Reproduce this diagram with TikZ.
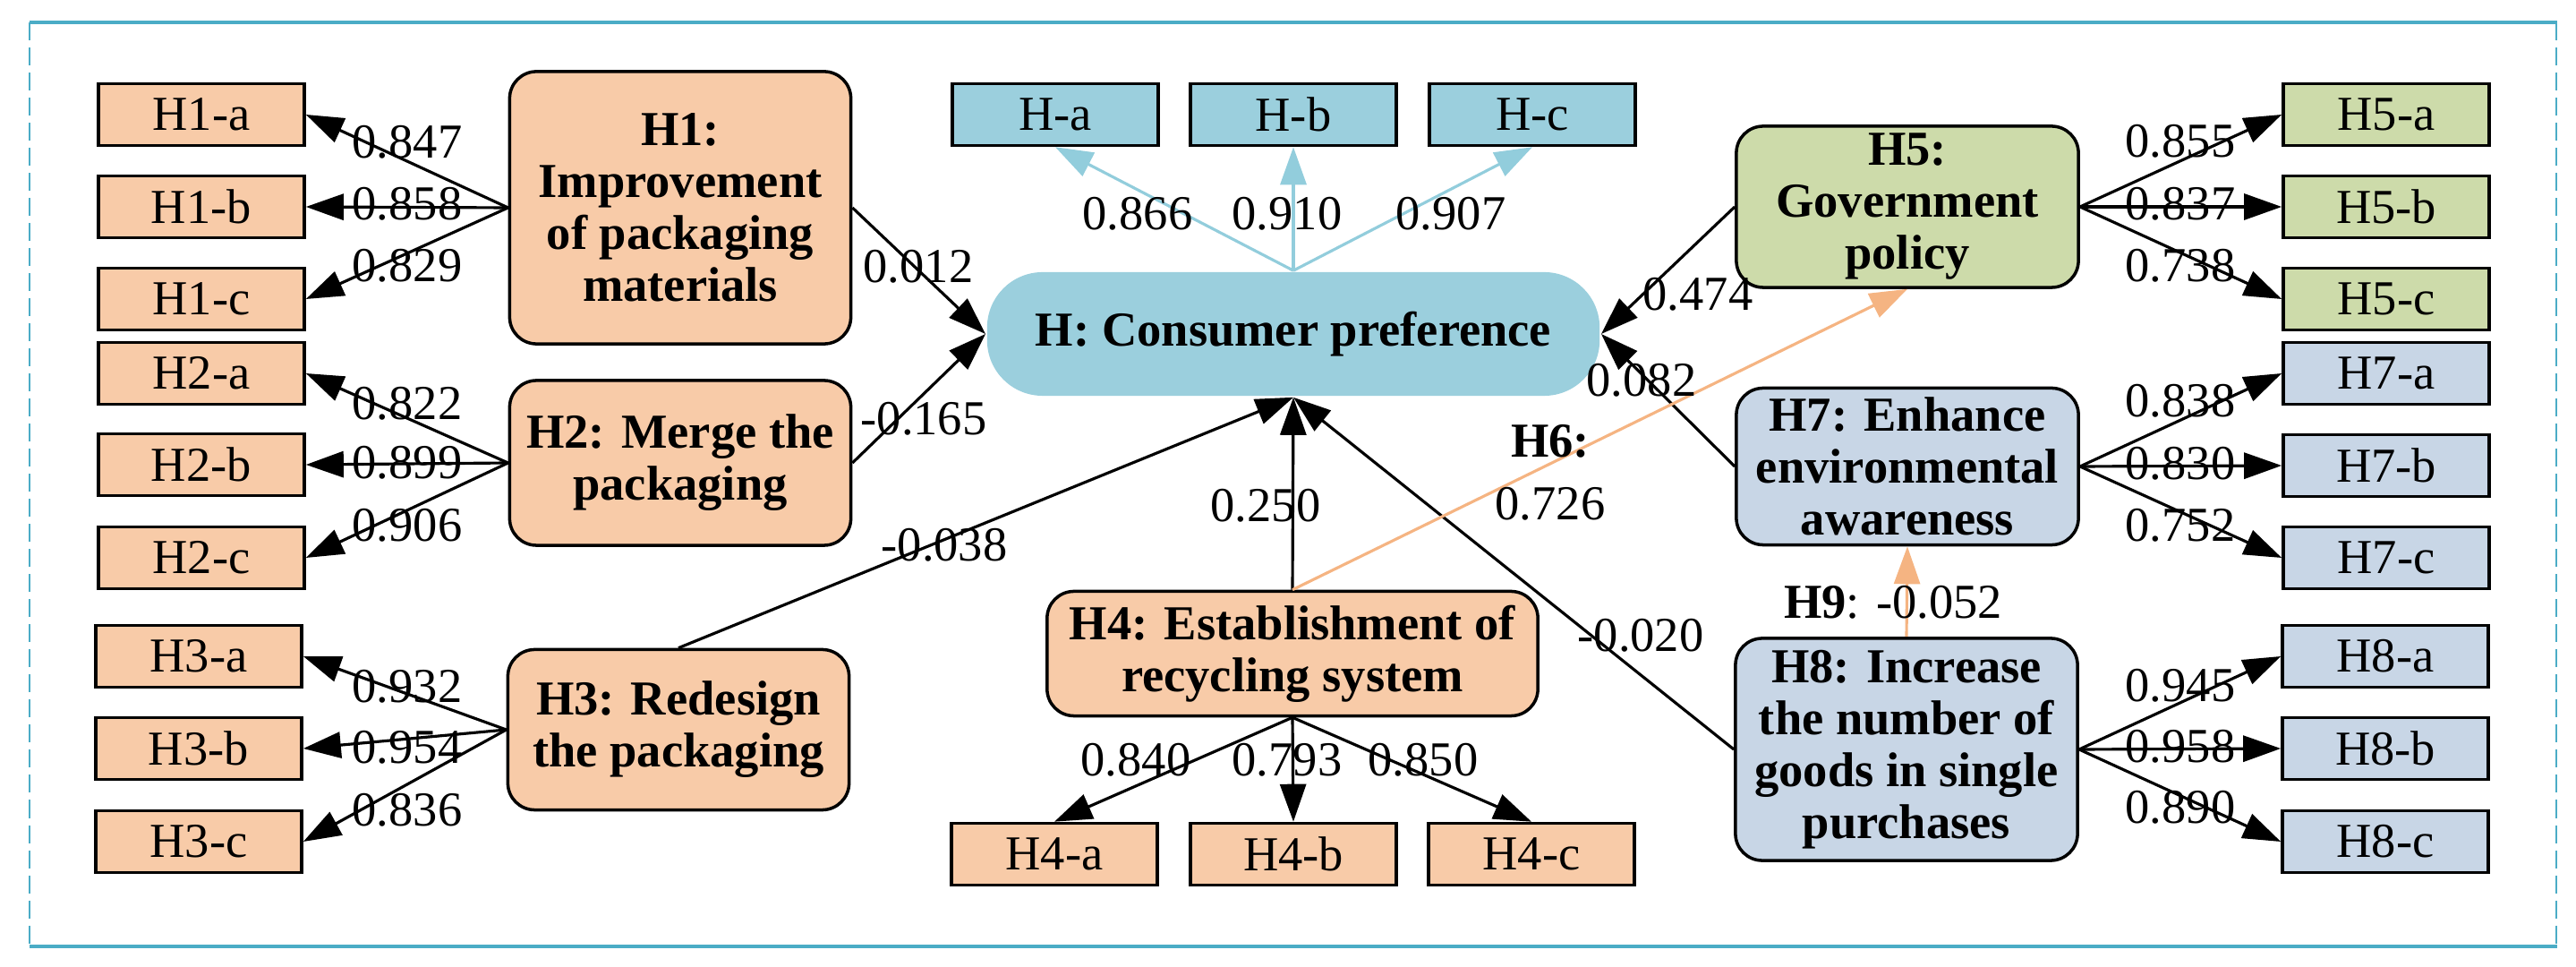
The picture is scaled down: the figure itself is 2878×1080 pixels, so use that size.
\documentclass[tikz,border=0pt]{standalone}
\usepackage{fontspec}
\setmainfont{Liberation Serif}
\usetikzlibrary{arrows.meta}
\definecolor{frameblue}{HTML}{4BACC6}
\definecolor{orfill}{HTML}{F8CBA8}
\definecolor{grfill}{HTML}{CDDBAA}
\definecolor{blfill}{HTML}{C8D6E6}
\definecolor{hfill}{HTML}{9BCFDD}
\definecolor{harrow}{HTML}{92CDDC}
\definecolor{orarrow}{HTML}{F5B482}
\begin{document}
\begin{tikzpicture}[x=0.01cm,y=-0.01cm,
  ind/.style={draw=black, line width=1pt, minimum width=2.3cm, minimum height=0.69cm, inner sep=0pt, font=\fontsize{15.5}{17}\selectfont},
  lat/.style={draw=black, line width=1pt, rounded corners=0.3cm, align=center, inner sep=0pt, font=\fontsize{15.5}{16.5}\selectfont\bfseries},
  lbl/.style={inner sep=0pt, font=\fontsize{15.5}{17}\selectfont},
  arr/.style={line width=0.9pt, -{Triangle[length=4.2mm,width=2.9mm]}},
  barr/.style={draw=harrow, line width=0.9pt, -{Triangle[length=4.2mm,width=2.9mm]}},
  oarr/.style={draw=orarrow, line width=0.9pt, -{Triangle[length=4.2mm,width=2.9mm]}},
  edge/.style={line width=0.9pt}
]
\useasboundingbox (0,0) rectangle (2878,1080);
% frame
\draw[frameblue, line width=0.035cm] (33,25) -- (2857,25);
\draw[frameblue, line width=0.035cm] (33,1057) -- (2857,1057);
\draw[frameblue, line width=0.5pt, dash pattern=on 0.2cm off 0.08cm] (33,25) -- (33,1057);
\draw[frameblue, line width=0.5pt, dash pattern=on 0.2cm off 0.08cm] (2856,25) -- (2856,1057);

% latent nodes
\node[lat, fill=orfill, minimum width=3.81cm, minimum height=3.04cm] (H1) at (760,232) {H1:\\Improvement\\of packaging\\materials};
\node[lat, fill=orfill, minimum width=3.81cm, minimum height=1.84cm] (H2) at (760,517) {H2: Merge the\\packaging};
\node[lat, fill=orfill, minimum width=3.81cm, minimum height=1.79cm] (H3) at (758,815) {H3: Redesign\\the packaging};
\node[lat, fill=orfill, minimum width=5.48cm, minimum height=1.39cm] (H4) at (1444,730) {H4: Establishment of\\recycling system};
\node[lat, fill=grfill, minimum width=3.82cm, minimum height=1.80cm] (H5) at (2131,231) {H5:\\Government\\policy};
\node[lat, fill=blfill, minimum width=3.82cm, minimum height=1.75cm] (H7) at (2131,521) {H7: Enhance\\environmental\\awareness};
\node[lat, fill=blfill, minimum width=3.82cm, minimum height=2.48cm] (H8) at (2130,837) {H8: Increase\\the number of\\goods in single\\purchases};
\node[lat, draw=none, fill=hfill, rounded corners=0.62cm, minimum width=6.84cm, minimum height=1.38cm] (H) at (1445,373) {H: Consumer preference};

% indicator nodes
\node[ind, fill=orfill] (H1a) at (225,128) {H1-a};
\node[ind, fill=orfill] (H1b) at (225,231) {H1-b};
\node[ind, fill=orfill] (H1c) at (225,334) {H1-c};
\node[ind, fill=orfill] (H2a) at (225,417) {H2-a};
\node[ind, fill=orfill] (H2b) at (225,519) {H2-b};
\node[ind, fill=orfill] (H2c) at (225,623) {H2-c};
\node[ind, fill=orfill] (H3a) at (222,733) {H3-a};
\node[ind, fill=orfill] (H3b) at (222,836) {H3-b};
\node[ind, fill=orfill] (H3c) at (222,940) {H3-c};
\node[ind, fill=hfill] (Ha) at (1179,128) {H-a};
\node[ind, fill=hfill] (Hb) at (1445,128) {H-b};
\node[ind, fill=hfill] (Hc) at (1712,128) {H-c};
\node[ind, fill=orfill] (H4a) at (1178,954) {H4-a};
\node[ind, fill=orfill] (H4b) at (1445,954) {H4-b};
\node[ind, fill=orfill] (H4c) at (1711,954) {H4-c};
\node[ind, fill=grfill] (H5a) at (2666,128) {H5-a};
\node[ind, fill=grfill] (H5b) at (2666,231) {H5-b};
\node[ind, fill=grfill] (H5c) at (2666,334) {H5-c};
\node[ind, fill=blfill] (H7a) at (2666,417) {H7-a};
\node[ind, fill=blfill] (H7b) at (2666,520) {H7-b};
\node[ind, fill=blfill] (H7c) at (2666,623) {H7-c};
\node[ind, fill=blfill] (H8a) at (2665,733) {H8-a};
\node[ind, fill=blfill] (H8b) at (2665,836) {H8-b};
\node[ind, fill=blfill] (H8c) at (2665,940) {H8-c};

% loadings
\draw[arr] (H1.west) -- (H1a.east);
\draw[arr] (H1.west) -- (H1b.east);
\draw[arr] (H1.west) -- (H1c.east);
\draw[arr] (H2.west) -- (H2a.east);
\draw[arr] (H2.west) -- (H2b.east);
\draw[arr] (H2.west) -- (H2c.east);
\draw[arr] (H3.west) -- (H3a.east);
\draw[arr] (H3.west) -- (H3b.east);
\draw[arr] (H3.west) -- (H3c.east);
\draw[barr] (H.north) -- (Ha.south);
\draw[barr] (H.north) -- (Hb.south);
\draw[barr] (H.north) -- (Hc.south);
\draw[arr] (H4.south) -- (H4a.north);
\draw[arr] (H4.south) -- (H4b.north);
\draw[arr] (H4.south) -- (H4c.north);
\draw[arr] (H5.east) -- (H5a.west);
\draw[arr] (H5.east) -- (H5b.west);
\draw[arr] (H5.east) -- (H5c.west);
\draw[arr] (H7.east) -- (H7a.west);
\draw[arr] (H7.east) -- (H7b.west);
\draw[arr] (H7.east) -- (H7c.west);
\draw[arr] (H8.east) -- (H8a.west);
\draw[arr] (H8.east) -- (H8b.west);
\draw[arr] (H8.east) -- (H8c.west);

% structural paths
\draw[arr] (H1.east) -- (H.west);
\draw[arr] (H2.east) -- (H.west);
\draw[arr] (H3.north) -- (H.south);
\draw[arr] (H4.north) -- (H.south);
\draw[arr] (H8.west) -- (H.south);
\draw[arr] (H5.west) -- (H.east);
\draw[arr] (H7.west) -- (H.east);
\draw[oarr] (H4.north) -- (H5.south);
\draw[oarr] (H8.north) -- (H7.south);

% labels
\node[lbl] (l1a) at (455,159) {0.847};
\node[lbl] (l1b) at (455,228) {0.858};
\node[lbl] (l1c) at (455,297) {0.829};
\node[lbl] (l2a) at (455,451) {0.822};
\node[lbl] (l2b) at (455,517) {0.899};
\node[lbl] (l2c) at (455,587) {0.906};
\node[lbl] (l3a) at (455,767) {0.932};
\node[lbl] (l3b) at (455,835) {0.954};
\node[lbl] (l3c) at (455,905) {0.836};
\node[lbl] (lha) at (1271,239) {0.866};
\node[lbl] (lhb) at (1438,239) {0.910};
\node[lbl] (lhc) at (1621,239) {0.907};
\node[lbl] (l4a) at (1269,849) {0.840};
\node[lbl] (l4b) at (1438,849) {0.793};
\node[lbl] (l4c) at (1590,849) {0.850};
\node[lbl] (l5a) at (2436,158) {0.855};
\node[lbl] (l5b) at (2436,228) {0.837};
\node[lbl] (l5c) at (2436,297) {0.738};
\node[lbl] (l7a) at (2436,448) {0.838};
\node[lbl] (l7b) at (2436,518) {0.830};
\node[lbl] (l7c) at (2436,587) {0.752};
\node[lbl] (l8a) at (2436,766) {0.945};
\node[lbl] (l8b) at (2436,834) {0.958};
\node[lbl] (l8c) at (2436,902) {0.890};
\node[lbl] (p1) at (1026,298) {0.012};
\node[lbl] (p2) at (1032,468) {-0.165};
\node[lbl] (p3) at (1055,609) {-0.038};
\node[lbl] (p4) at (1414,565) {0.250};
\node[lbl] (p5) at (1897,329) {0.474};
\node[lbl] (p7) at (1834,425) {0.082};
\node[lbl] (p8) at (1833,710) {-0.020};
\node[lbl, align=center, font=\fontsize{15.5}{20}\selectfont] (p6) at (1732,528) {\textbf{H6:}\\0.726};
\node[lbl] (p9) at (2115,673) {\textbf{H9}: -0.052};
\end{tikzpicture}
\end{document}
